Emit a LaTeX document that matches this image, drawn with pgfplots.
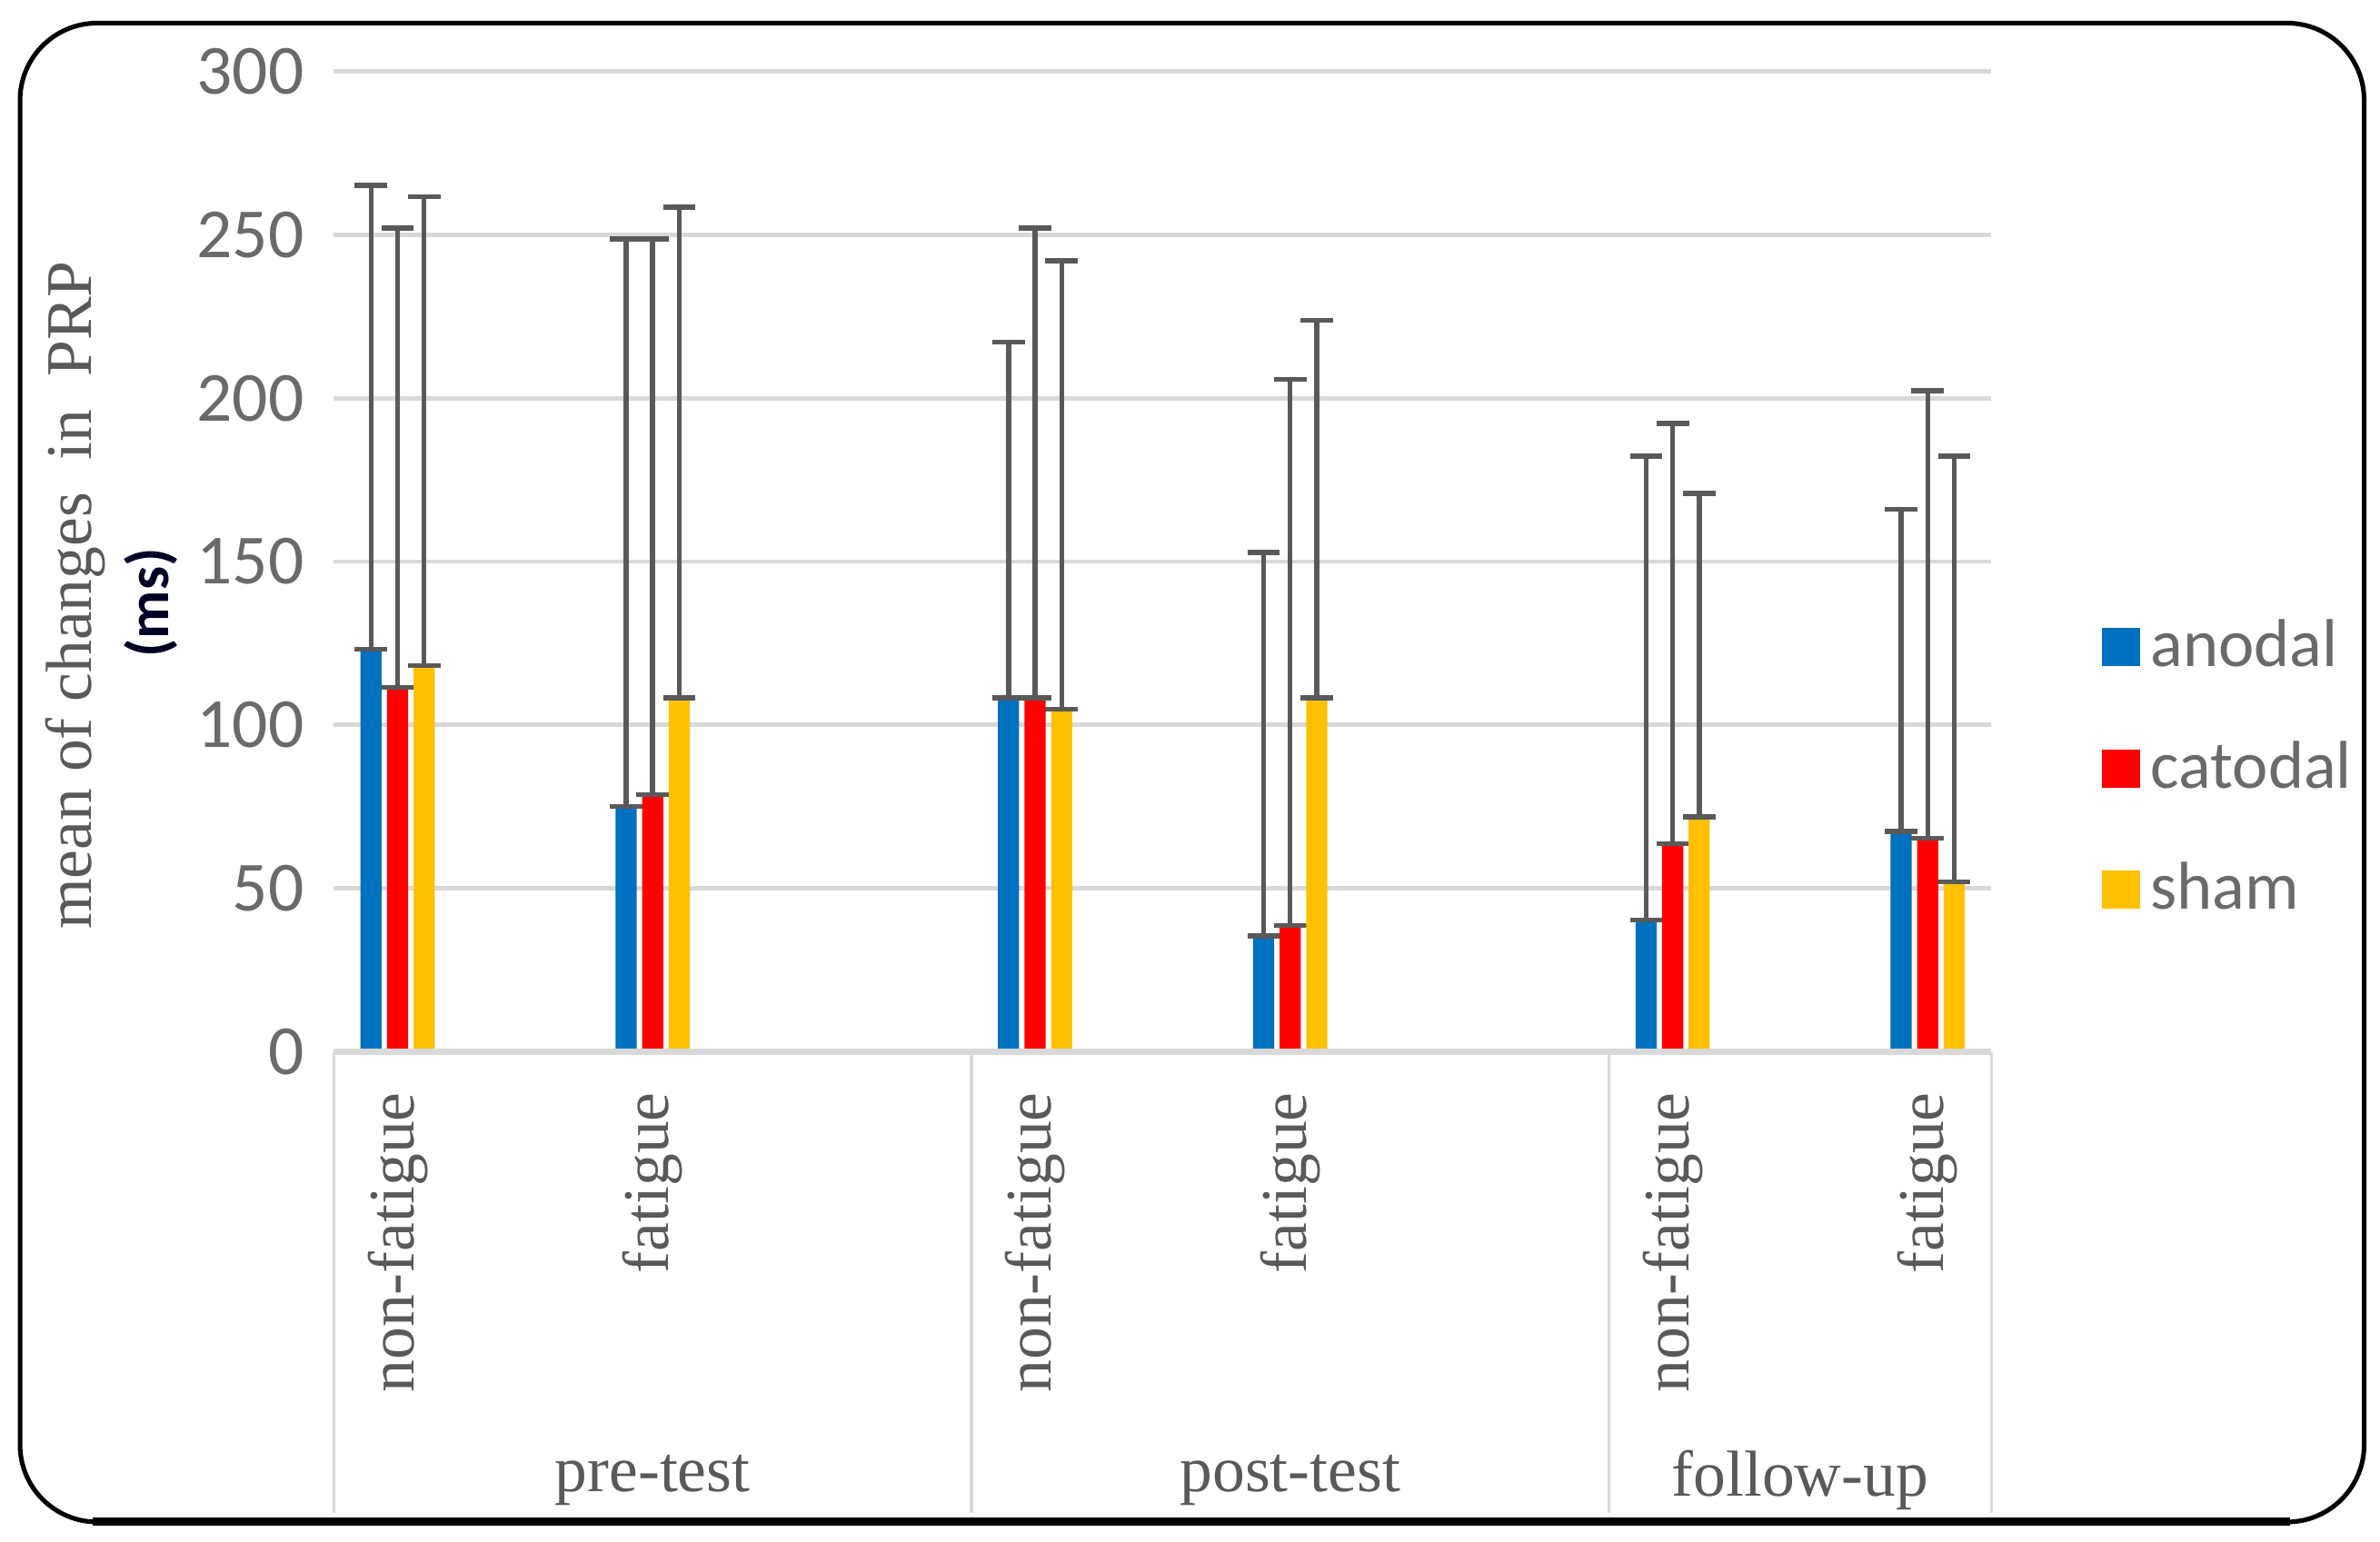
\documentclass[border=0pt]{standalone}
\usepackage{fontspec}
\setmainfont{Liberation Serif}
\newfontfamily\calib{Carlito}
\usepackage{pgfplots}
\pgfplotsset{compat=1.18}
\definecolor{anod}{RGB}{0,112,192}
\definecolor{catod}{RGB}{255,0,0}
\definecolor{shamc}{RGB}{255,192,0}
\definecolor{txtgray}{RGB}{89,89,89}
\definecolor{gridgray}{RGB}{217,217,217}

\pgfplotsset{
  errstyle/.style={
    error bars/.cd, y dir=both, y explicit,
    error bar style={draw=txtgray, line width=0.9pt},
    error mark options={rotate=90, mark size=3pt, draw=txtgray, line width=0.9pt},
  },
}

\begin{document}
\begin{tikzpicture}
\useasboundingbox (0,0) rectangle (15.433,-10);
\draw[black, line width=0.85pt, rounded corners=0.5cm] (0.13,-0.15) rectangle (15.33,-9.87);
\draw[black, line width=1.5pt] (0.6,-9.87) -- (14.85,-9.87);
\begin{axis}[
  at={(2.165cm,-6.821cm)}, anchor=south west,
  scale only axis, width=10.748cm, height=6.358cm,
  ybar, bar width=3.9pt,
  xmin=-0.5, xmax=12.5, ymin=0, ymax=300,
  ytick={0,50,...,300},
  xtick={0,2,5,7,10,12},
  xticklabels={non-fatigue,fatigue,non-fatigue,fatigue,non-fatigue,fatigue},
  major tick length=0pt,
  axis line style={draw=none},
  ymajorgrids, grid style={gridgray, line width=0.8pt},
  /pgf/number format/assume math mode=true,
  yticklabel style={font=\calib\fontsize{13}{13}\selectfont, text=txtgray!90, xshift=-2pt},
  xticklabel style={font=\fontsize{12}{12}\selectfont, text=txtgray, yshift=-4pt, rotate=90, anchor=east},
  clip=false,
  legend style={at={(axis description cs:1.066,0.289)}, anchor=west,
    draw=none, fill=none, inner sep=0pt, row sep=8.2pt,
    font=\calib\fontsize{12.5}{12.5}\selectfont, text=txtgray!90},
  legend cell align=left,
]
\addplot[fill=anod, draw=none, bar shift=-4.9pt,
  legend image code/.code={\fill[anod] (0pt,-3.5pt) rectangle (7pt,3.5pt);},
  errstyle] coordinates {
  (0,123.2) += (0,141.9) -= (0,0)
  (2,75.1) += (0,173.6) -= (0,0)
  (5,108.3) += (0,108.9) -= (0,0)
  (7,35.5) += (0,117.3) -= (0,0)
  (10,40.4) += (0,141.9) -= (0,0)
  (12,67.4) += (0,98.6) -= (0,0)
};
\addlegendentry{anodal}
\addplot[fill=catod, draw=none, bar shift=0pt,
  legend image code/.code={\fill[catod] (0pt,-3.5pt) rectangle (7pt,3.5pt);},
  errstyle] coordinates {
  (0,111.5) += (0,140.6) -= (0,0)
  (2,78.7) += (0,170.0) -= (0,0)
  (5,108.3) += (0,143.8) -= (0,0)
  (7,38.7) += (0,167.0) -= (0,0)
  (10,63.6) += (0,128.7) -= (0,0)
  (12,65.3) += (0,137.0) -= (0,0)
};
\addlegendentry{catodal}
\addplot[fill=shamc, draw=none, bar shift=4.9pt,
  legend image code/.code={\fill[shamc] (0pt,-3.5pt) rectangle (7pt,3.5pt);},
  errstyle] coordinates {
  (0,118.1) += (0,143.6) -= (0,0)
  (2,108.3) += (0,150.2) -= (0,0)
  (5,104.9) += (0,137.2) -= (0,0)
  (7,108.3) += (0,115.5) -= (0,0)
  (10,71.9) += (0,99.0) -= (0,0)
  (12,52.0) += (0,130.3) -= (0,0)
};
\addlegendentry{sham}
\draw[gridgray, line width=1.1pt] (axis cs:-0.5,0) -- (axis cs:12.5,0);
\draw[gridgray, line width=0.6pt] (axis cs:-0.5,0) -- ([yshift=-2.99cm]axis cs:-0.5,0);
\draw[gridgray, line width=0.6pt] (axis cs:4.5,0) -- ([yshift=-2.99cm]axis cs:4.5,0);
\draw[gridgray, line width=0.6pt] (axis cs:9.5,0) -- ([yshift=-2.99cm]axis cs:9.5,0);
\draw[gridgray, line width=0.6pt] (axis cs:12.5,0) -- ([yshift=-2.99cm]axis cs:12.5,0);
\node[font=\fontsize{12}{12}\selectfont, text=txtgray] at ([yshift=-2.78cm]axis cs:2,0) {pre-test};
\node[font=\fontsize{12}{12}\selectfont, text=txtgray] at ([yshift=-2.78cm]axis cs:7,0) {post-test};
\node[font=\fontsize{12}{12}\selectfont, text=txtgray] at ([yshift=-2.78cm]axis cs:11,0) {follow-up};
\end{axis}
\node[rotate=90, font=\fontsize{12}{12}\selectfont, text=txtgray] at (0.49,-3.86) {mean of changes\ \ in\ \ PRP};
\node[rotate=90, font=\calib\bfseries\fontsize{11}{11}\selectfont, text=black!85!blue] at (0.98,-3.91) {(ms)};
\end{tikzpicture}
\end{document}
